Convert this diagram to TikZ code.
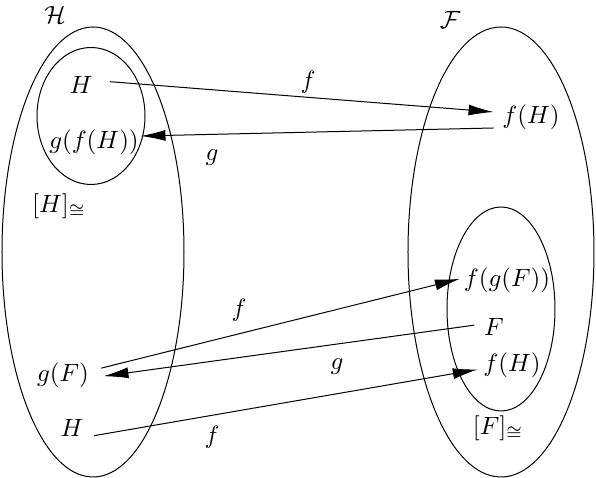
\documentclass[tikz,border=0pt]{standalone}
\usepackage{amsmath}
\usepackage{amssymb}
\usetikzlibrary{arrows.meta}
\tikzset{
  mapto/.style={thin, -{Latex[length=10pt,width=4.4pt]}},
}

\begin{document}
\begin{tikzpicture}[x=0.4pt,y=-0.4pt]
  \useasboundingbox (0,0) rectangle (596,478);
  % the two collections and their classes
  \draw (93,252) ellipse [x radius=36.4pt, y radius=90pt];
  \draw (91,116) ellipse [x radius=21.6pt, y radius=27.4pt];
  \draw (501,252) ellipse [x radius=37.2pt, y radius=90pt];
  \draw (501,309) ellipse [x radius=21.6pt, y radius=40.8pt];

  \node (calH) at (55,15) {$\mathcal{H}$};
  \node (calF) at (450,20) {$\mathcal{F}$};

  \node (h1) at (81,85) {$H$};
  \node[inner sep=0.5pt] (gfh) at (94,142) {$g(f(H))$};
  \node (classH) at (59,206) {$[H]_{\cong}$};
  \node (fh1) at (531,117) {$f(H)$};

  \node (fgf) at (507,280) {$f(g(F))$};
  \node (F0) at (494,327) {$F$};
  \node (fh2) at (512,365) {$f(H)$};
  \node (classF) at (498,428) {$[F]_{\cong}$};
  \node (gF) at (63,375) {$g(F)$};
  \node (h2) at (72,428) {$H$};

  % maps
  \draw[mapto, shorten <=3.5pt] ([yshift=1.6pt]h1.east) -- ([yshift=2pt]fh1.west);
  \draw[mapto] ([yshift=-4.4pt]fh1.west) -- ([yshift=2.4pt]gfh.east);
  \draw[mapto, shorten <=1.5pt, shorten >=-2pt] ([yshift=2.4pt]gF.east) -- (fgf.west);
  \draw[mapto, shorten <=0.4pt, shorten >=2.3pt] ([yshift=0.8pt]F0.west) -- ([yshift=-0.8pt]gF.east);
  \draw[mapto, shorten <=0.7pt, shorten >=-1.3pt] ([yshift=-3.2pt]h2.east) -- ([yshift=-2pt]fh2.west);

  \node (lf1) at (308,82) {$f$};
  \node (lg1) at (212,158) {$g$};
  \node (lf2) at (239,310) {$f$};
  \node (lg2) at (337,367) {$g$};
  \node (lf3) at (212,437) {$f$};
\end{tikzpicture}
\end{document}
